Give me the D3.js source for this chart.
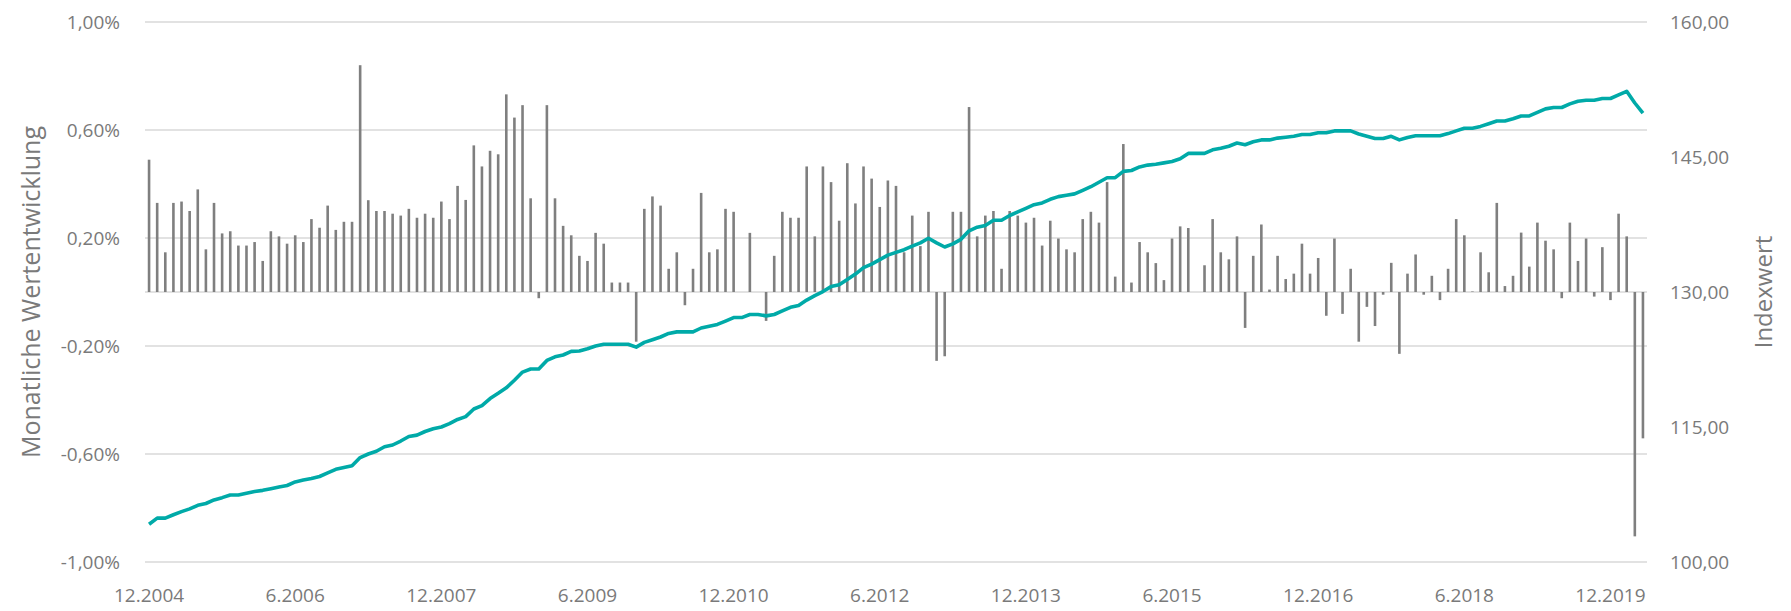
<!DOCTYPE html>
<html>
<head>
<meta charset="utf-8">
<script src="https://cdn.jsdelivr.net/npm/d3@7"></script>
<style>
  body { margin: 0; background: #fff; }
  text { font-family: "Open Sans", "Noto Sans", sans-serif; fill: #7a7a7a; }
</style>
</head>
<body>
<div id="root"></div>
<script>
// Monthly returns in %, 12.2004 .. 4.2020
const returns = [
  0.49, 0.33, 0.147, 0.33, 0.335, 0.30, 0.38, 0.158, 0.33, 0.217,
  0.225, 0.172, 0.172, 0.185, 0.115, 0.225, 0.206, 0.179, 0.21, 0.185,
  0.27, 0.238, 0.32, 0.23, 0.26, 0.26, 0.84, 0.34, 0.30, 0.30,
  0.29, 0.283, 0.308, 0.275, 0.29, 0.275, 0.335, 0.27, 0.393, 0.341,
  0.543, 0.465, 0.523, 0.51, 0.732, 0.646, 0.692, 0.347, -0.023, 0.692,
  0.347, 0.245, 0.21, 0.134, 0.115, 0.219, 0.179, 0.035, 0.035, 0.035,
  -0.184, 0.308, 0.354, 0.32, 0.086, 0.147, -0.049, 0.086, 0.367, 0.147,
  0.158, 0.308, 0.297, 0.0, 0.219, 0.0, -0.107, 0.134, 0.297, 0.275,
  0.275, 0.465, 0.206, 0.465, 0.407, 0.264, 0.477, 0.328, 0.465, 0.42,
  0.315, 0.413, 0.393, 0.147, 0.283, 0.17, 0.297, -0.255, -0.238, 0.297,
  0.297, 0.685, 0.206, 0.283, 0.30, 0.086, 0.30, 0.283, 0.257, 0.275,
  0.172, 0.264, 0.198, 0.158, 0.147, 0.27, 0.297, 0.257, 0.407, 0.057,
  0.548, 0.035, 0.185, 0.147, 0.107, 0.044, 0.198, 0.243, 0.237, 0.0,
  0.099, 0.27, 0.147, 0.121, 0.206, -0.133, 0.134, 0.25, 0.009, 0.134,
  0.048, 0.068, 0.179, 0.068, 0.126, -0.088, 0.198, -0.081, 0.086, -0.184,
  -0.055, -0.126, -0.01, 0.108, -0.229, 0.068, 0.139, -0.01, 0.06, -0.03,
  0.086, 0.27, 0.21, 0.002, 0.147, 0.073, 0.33, 0.022, 0.06, 0.22,
  0.094, 0.257, 0.19, 0.158, -0.023, 0.257, 0.115, 0.198, -0.017, 0.166,
  -0.03, 0.29, 0.206, -0.905, -0.542
];

// Index value, same months
const indexValues = [
  104.2, 104.87, 104.87, 105.25, 105.6, 105.9, 106.3, 106.5, 106.9, 107.15,
  107.45, 107.45, 107.65, 107.84, 107.96, 108.15, 108.34, 108.5, 108.9, 109.1,
  109.27, 109.5, 109.9, 110.3, 110.5, 110.7, 111.6, 112.0, 112.3, 112.8,
  113.0, 113.44, 113.95, 114.1, 114.5, 114.8, 115.0, 115.37, 115.84, 116.15,
  117.0, 117.38, 118.16, 118.74, 119.35, 120.2, 121.1, 121.44, 121.44, 122.4,
  122.8, 123.0, 123.4, 123.45, 123.7, 124.0, 124.2, 124.2, 124.2, 124.2,
  123.87, 124.4, 124.7, 125.0, 125.4, 125.57, 125.57, 125.57, 126.0, 126.2,
  126.4, 126.77, 127.16, 127.16, 127.5, 127.5, 127.35, 127.5, 127.9, 128.3,
  128.5, 129.1, 129.6, 130.05, 130.6, 130.8, 131.4, 131.99, 132.7, 133.1,
  133.6, 134.1, 134.4, 134.7, 135.1, 135.46, 135.97, 135.46, 135.0, 135.35,
  135.85, 136.8, 137.2, 137.4, 137.97, 137.97, 138.5, 138.9, 139.3, 139.7,
  139.9, 140.3, 140.6, 140.75, 140.9, 141.3, 141.7, 142.2, 142.7, 142.7,
  143.4, 143.5, 143.9, 144.1, 144.2, 144.35, 144.5, 144.8, 145.4, 145.4,
  145.4, 145.8, 145.97, 146.2, 146.55, 146.36, 146.7, 146.9, 146.9, 147.1,
  147.2, 147.3, 147.5, 147.5, 147.7, 147.7, 147.9, 147.9, 147.9, 147.55,
  147.3, 147.05, 147.05, 147.3, 146.9, 147.17, 147.36, 147.36, 147.36, 147.36,
  147.6, 147.9, 148.2, 148.2, 148.4, 148.7, 149.0, 149.0, 149.25, 149.56,
  149.56, 149.95, 150.35, 150.5, 150.5, 150.9, 151.2, 151.3, 151.3, 151.5,
  151.5, 151.9, 152.3, 151.0, 149.87
];

const leftTicks = [-1.0, -0.6, -0.2, 0.2, 0.6, 1.0];
const rightTicks = [100, 115, 130, 145, 160];
const xTickLabels = ["12.2004", "6.2006", "12.2007", "6.2009", "12.2010", "6.2012",
  "12.2013", "6.2015", "12.2016", "6.2018", "12.2019"];

// month labels, one per bar
const months = d3.timeMonth.range(new Date(2004, 11, 1), new Date(2020, 4, 1))
  .map(d => (d.getMonth() + 1) + "." + d.getFullYear());

const width = 1791, height = 611;
const margin = { top: 22, right: 144, bottom: 49, left: 145 };
const innerH = height - margin.top - margin.bottom;

const svg = d3.select("#root")
  .append("svg")
  .attr("width", width)
  .attr("height", height);

const x = d3.scaleBand()
  .domain(months)
  .range([margin.left, width - margin.right])
  .padding(0);

const yL = d3.scaleLinear().domain([-1, 1]).range([margin.top + innerH, margin.top]);
const yR = d3.scaleLinear().domain([100, 160]).range([margin.top + innerH, margin.top]);

const cx = d => x(d) + x.bandwidth() / 2;

// gridlines
svg.append("g")
  .selectAll("line")
  .data(leftTicks.concat([0]))
  .enter()
  .append("line")
  .attr("x1", margin.left)
  .attr("x2", width - margin.right)
  .attr("y1", d => yL(d))
  .attr("y2", d => yL(d))
  .attr("stroke", "#d9d9d9")
  .attr("stroke-width", 1.3);

// left axis labels
const fmtL = d3.format(".2f");
svg.append("g")
  .selectAll("text")
  .data(leftTicks)
  .enter()
  .append("text")
  .attr("x", 120)
  .attr("y", d => yL(d))
  .attr("dy", "0.35em")
  .attr("text-anchor", "end")
  .style("font-size", "19px")
  .text(d => fmtL(d).replace(".", ",").replace("−", "-") + "%");

// right axis labels
svg.append("g")
  .selectAll("text")
  .data(rightTicks)
  .enter()
  .append("text")
  .attr("x", 1670)
  .attr("y", d => yR(d))
  .attr("dy", "0.35em")
  .attr("text-anchor", "start")
  .style("font-size", "19px")
  .text(d => d3.format(".2f")(d).replace(".", ","));

// x labels
svg.append("g")
  .selectAll("text")
  .data(xTickLabels)
  .enter()
  .append("text")
  .attr("x", d => cx(d))
  .attr("y", 595)
  .attr("dy", "0.35em")
  .attr("text-anchor", "middle")
  .style("font-size", "19px")
  .text(d => d);

// axis titles
svg.append("text")
  .attr("transform", "translate(31," + yL(0) + ") rotate(-90)")
  .attr("dy", "0.35em")
  .attr("text-anchor", "middle")
  .style("font-size", "25px")
  .text("Monatliche Wertentwicklung");

svg.append("text")
  .attr("transform", "translate(1764," + yL(0) + ") rotate(-90)")
  .attr("dy", "0.35em")
  .attr("text-anchor", "middle")
  .style("font-size", "24px")
  .text("Indexwert");

// bars
const barW = 2.6;
svg.append("g")
  .selectAll("rect")
  .data(returns)
  .enter()
  .append("rect")
  .attr("x", (d, i) => cx(months[i]) - barW / 2)
  .attr("width", barW)
  .attr("y", d => yL(Math.max(0, d)))
  .attr("height", d => Math.abs(yL(d) - yL(0)))
  .attr("fill", "#7f7f7f");

// index line
const line = d3.line()
  .x((d, i) => cx(months[i]))
  .y(d => yR(d));

svg.append("path")
  .datum(indexValues)
  .attr("d", line)
  .attr("fill", "none")
  .attr("stroke", "#00aaa8")
  .attr("stroke-width", 3.6)
  .attr("stroke-linejoin", "round");
</script>
</body>
</html>
